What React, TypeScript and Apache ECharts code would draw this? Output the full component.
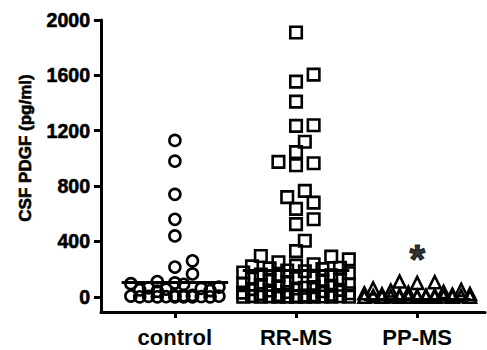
import React, { useEffect, useRef } from "react";
import * as echarts from "echarts";

const categories = ["control", "RR-MS", "PP-MS"];
const controlValues = [1130, 980, 740, 560, 440, 260, 215, 165, 110, 100, 95, 90, 70, 65, 60, 55, 50, 45, 40, 10, 8, 6, 5, 4, 3, 2, 1, 0, 0, 0, 0, 0, 0];
const rrmsValues = [1910, 1605, 1555, 1410, 1240, 1235, 1120, 1045, 975, 965, 950, 765, 720, 680, 635, 560, 525, 405, 330, 295, 290, 270, 250, 235, 225, 220, 210, 205, 200, 190, 185, 175, 170, 160, 155, 150, 140, 135, 130, 120, 115, 110, 100, 95, 90, 85, 80, 75, 70, 65, 60, 55, 50, 45, 40, 35, 30, 25, 20, 15, 12, 10, 8, 6, 5, 4, 3, 2, 1, 0, 0, 0, 0, 0, 0, 0, 0];
const ppmsValues = [110, 105, 100, 60, 50, 45, 35, 30, 25, 20, 18, 15, 12, 10, 8, 6, 5, 4, 3, 2, 1, 0, 0, 0, 0, 0, 0, 0, 0];
const centerLineValues = [105, 190, -20];
const yTickValues = [0, 400, 800, 1200, 1600, 2000];
const yAxisTitle = "CSF PDGF (pg/ml)";
const significanceLabels = ["", "", "*"];
const significanceValues = [0, 0, 270];

const FONT = "'Liberation Sans', Arial, Helvetica, sans-serif";
const GRID = { left: 101, top: 20, width: 384, height: 292 };
const X_MIN = 0.39, X_MAX = 3.56, Y_MIN = -110, Y_MAX = 2000;

function swarm(values: number[], center: number, maxSlots: number): number[][] {
  const pxX = GRID.width / (X_MAX - X_MIN);
  const pxY = GRID.height / (Y_MAX - Y_MIN);
  const size = 13, step = 8.8;
  const sorted = [...values].sort((a, b) => a - b);
  const placed: { dx: number; y: number }[] = [];
  const out: number[][] = [];
  for (const v of sorted) {
    const y = v * pxY;
    const cands: number[] = [0];
    for (let k = 1; k <= maxSlots; k++) { cands.push(k * step, -k * step); }
    let best = 0, bestD = -1, chosen: number | null = null;
    for (const c of cands) {
      let md = Infinity;
      for (const p of placed) {
        const d = Math.hypot(p.dx - c, p.y - y);
        if (d < md) md = d;
      }
      if (md >= size) { chosen = c; break; }
      if (md > bestD) { bestD = md; best = c; }
    }
    const dx = chosen === null ? best : chosen;
    placed.push({ dx, y });
    out.push([center + dx / pxX, v]);
  }
  return out;
}

export default function App() {
  const ref = useRef<HTMLDivElement>(null);
  useEffect(() => {
    if (!ref.current) return;
    const chart = echarts.init(ref.current, null, { renderer: "svg" });
    const groups = [controlValues, rrmsValues, ppmsValues];
    const symbols = ["circle", "rect", "triangle"];
    const sizes = [11, 11.5, 12];
    const slots = [5, 6, 6];
    const series: any[] = groups.map((vals, i) => ({
      type: "scatter",
      data: swarm(vals, i + 1, slots[i]),
      symbol: symbols[i],
      symbolSize: sizes[i],
      itemStyle: { color: "none", borderColor: "#000000", borderWidth: 2.6, opacity: 1 },
      markLine: {
        silent: true,
        symbol: "none",
        label: { show: false },
        lineStyle: { color: "#000000", width: 3, type: "solid" },
        data: [[{ coord: [i + 1 - 0.44, centerLineValues[i]] }, { coord: [i + 1 + 0.44, centerLineValues[i]] }]],
      },
    }));
    series.push({
      type: "scatter",
      symbolSize: 1,
      itemStyle: { color: "rgba(0,0,0,0)" },
      data: significanceLabels
        .map((t, i) => ({ value: [i + 1, significanceValues[i]], t }))
        .filter((d) => d.t !== ""),
      label: {
        show: true,
        position: "inside",
        formatter: (p: any) => p.data.t,
        fontSize: 40,
        fontWeight: "bold",
        fontFamily: FONT,
        color: "#000000",
        textBorderColor: "#000000",
        textBorderWidth: 1.2,
      },
    });
    chart.setOption({
      animation: false,
      backgroundColor: "#ffffff",
      grid: { ...GRID },
      xAxis: {
        type: "value",
        min: X_MIN,
        max: X_MAX,
        splitLine: { show: false },
        axisLine: { show: true, onZero: false, lineStyle: { color: "#000000", width: 3 } },
        axisTick: { show: true, customValues: [1, 2, 3], length: 6, lineStyle: { color: "#000000", width: 3 } },
        axisLabel: {
          customValues: [1, 2, 3],
          formatter: (v: number) => categories[Math.round(v) - 1] ?? "",
          fontSize: 22,
          fontWeight: "bold",
          fontFamily: FONT,
          color: "#000000",
          margin: 14,
        },
      },
      yAxis: {
        type: "value",
        min: Y_MIN,
        max: Y_MAX,
        name: yAxisTitle,
        nameLocation: "middle",
        nameRotate: 90,
        nameGap: 67,
        nameTextStyle: {
          fontSize: 17,
          fontWeight: "bold",
          fontFamily: FONT,
          color: "#000000",
          textBorderColor: "#000000",
          textBorderWidth: 0.6,
          padding: [0, 0, 0, 36],
        },
        splitLine: { show: false },
        axisLine: { show: true, onZero: false, lineStyle: { color: "#000000", width: 3 } },
        axisTick: { show: true, customValues: yTickValues, length: 7, lineStyle: { color: "#000000", width: 3 } },
        axisLabel: {
          customValues: yTickValues,
          formatter: (v: number) => String(v),
          fontSize: 19.5,
          fontWeight: "bold",
          fontFamily: FONT,
          color: "#000000",
          textBorderColor: "#000000",
          textBorderWidth: 0.6,
          margin: 11,
        },
      },
      series,
    });
    return () => chart.dispose();
  }, []);
  return <div ref={ref} style={{ position: "fixed", left: 0, top: 0, width: 487, height: 350 }} />;
}
